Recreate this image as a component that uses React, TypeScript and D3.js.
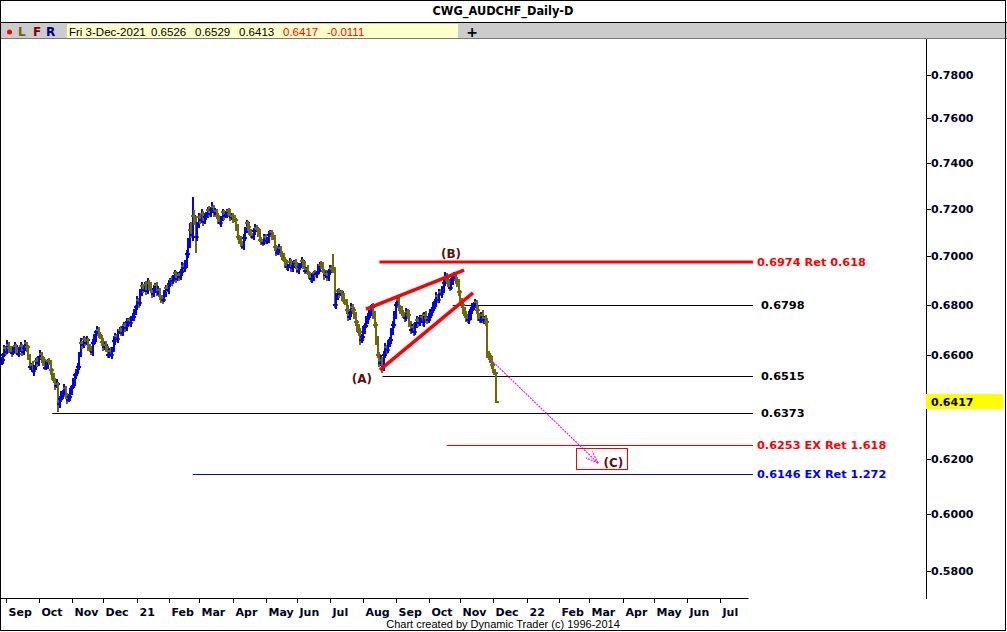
import React, { useEffect } from "react";
import * as d3 from "d3";

// ---- DATA (prices in units of 0.0001) ----
const startDate = "2020-08-27";
const closes = [
  6580, 6598, 6625, 6612, 6640, 6628, 6620, 6605, 6622, 6636,
  6618, 6602, 6620, 6633, 6610, 6628, 6645, 6630, 6590, 6552,
  6560, 6535, 6550, 6575, 6566, 6590, 6602, 6585, 6570, 6548,
  6560, 6575, 6570, 6540, 6515, 6500, 6478, 6485, 6410, 6428,
  6445, 6452, 6470, 6440, 6425, 6436, 6455, 6474, 6490, 6520,
  6535, 6552, 6600, 6646, 6640, 6662, 6648, 6658, 6630, 6625,
  6610, 6646, 6668, 6690, 6700, 6680, 6672, 6650, 6630, 6640,
  6625, 6600, 6615, 6598, 6620, 6655, 6675, 6662, 6690, 6700,
  6688, 6710, 6720, 6705, 6730, 6738, 6725, 6745, 6750, 6772,
  6790, 6820, 6805, 6850, 6875, 6862, 6880, 6855, 6890, 6878,
  6860, 6842, 6865, 6880, 6850, 6860, 6835, 6820, 6818, 6845,
  6870, 6860, 6885, 6900, 6895, 6913, 6930, 6905, 6920, 6913,
  6935, 6960, 6950, 6965, 7010, 7055, 7110, 7090, 7170, 7150,
  7080, 7130, 7165, 7155, 7180, 7145, 7166, 7175, 7195, 7180,
  7196, 7210, 7185, 7190, 7170, 7150, 7140, 7160, 7185, 7170,
  7175, 7190, 7180, 7166, 7172, 7160, 7155, 7120, 7080, 7070,
  7055, 7040, 7075, 7110, 7140, 7125, 7100, 7090, 7080, 7105,
  7120, 7115, 7095, 7070, 7065, 7055, 7080, 7065, 7070, 7090,
  7100, 7085, 7080, 7040, 7013, 7020, 7035, 7010, 7000, 6985,
  6970, 6955, 6960, 6975, 6950, 6960, 6975, 6965, 6940, 6955,
  6960, 6980, 6965, 6940, 6945, 6930, 6920, 6905, 6913, 6930,
  6925, 6930, 6950, 6965, 6963, 6940, 6920, 6925, 6913, 6935,
  6950, 6945, 6942, 6800, 6830, 6855, 6845, 6850, 6830, 6815,
  6810, 6780, 6750, 6765, 6790, 6780, 6755, 6730, 6710, 6690,
  6658, 6670, 6698, 6715, 6740, 6750, 6770, 6785, 6790, 6760,
  6720, 6658, 6600, 6568, 6580, 6550, 6600, 6630, 6620, 6645,
  6658, 6690, 6720, 6760, 6800, 6819, 6790, 6780, 6765, 6760,
  6745, 6770, 6760, 6725, 6700, 6710, 6690, 6720, 6738, 6725,
  6745, 6750, 6730, 6760, 6745, 6738, 6750, 6770, 6780, 6795,
  6810, 6835, 6820, 6850, 6845, 6860, 6890, 6913, 6900, 6889,
  6870, 6895, 6913, 6920, 6900, 6889, 6850, 6819, 6800, 6778,
  6760, 6745, 6738, 6755, 6778, 6790, 6800, 6810, 6780, 6750,
  6740, 6760, 6738, 6745, 6730, 6600, 6595, 6580, 6560, 6540, 6528, 6417,
];
// extension of the high above max(open, close), and of the low below min(open, close)
const hiExt = [
  12, 9, 15, 8, 18, 10, 6, 14, 9, 16, 8, 14, 10, 18, 9, 12, 15, 6, 10, 14,
  9, 16, 8, 12, 15, 6, 18, 10, 9, 14, 15, 8, 12, 9, 6, 14, 10, 18, 8, 12,
  14, 9, 16, 6, 12, 10, 15, 8, 18, 9, 10, 15, 12, 20, 9, 14, 8, 16, 10, 12,
  9, 18, 14, 8, 15, 10, 12, 6, 16, 9, 14, 8, 10, 15, 9, 18, 12, 8, 14, 10,
  15, 9, 12, 8, 16, 10, 14, 9, 18, 12, 10, 16, 8, 14, 19, 9, 12, 15, 18, 10,
  14, 8, 15, 9, 12, 18, 10, 6, 14, 16, 9, 12, 15, 8, 18, 10, 14, 9, 16, 12,
  10, 15, 12, 18, 14, 22, 28, 35, 82, 25, 18, 14, 16, 9, 20, 12, 15, 10, 14, 18,
  12, 22, 9, 15, 10, 14, 18, 8, 16, 12, 15, 9, 14, 19, 10, 12, 16, 8, 15, 10,
  14, 9, 18, 12, 15, 10, 14, 16, 9, 12, 15, 10, 8, 18, 12, 9, 14, 15, 10, 16,
  12, 9, 15, 10, 8, 14, 18, 9, 12, 15, 10, 14, 9, 16, 12, 15, 8, 14, 10, 18,
  12, 15, 9, 14, 10, 18, 8, 12, 15, 9, 14, 10, 16, 9, 15, 12, 8, 14, 18, 10,
  12, 15, 62, 14, 18, 10, 15, 9, 12, 16, 10, 14, 18, 9, 15, 12, 10, 16, 9, 14,
  15, 12, 18, 10, 14, 16, 9, 15, 12, 18, 14, 10, 15, 12, 18, 9, 14, 16, 10, 15,
  12, 18, 14, 15, 10, 16, 12, 9, 15, 14, 10, 15, 12, 18, 9, 14, 16, 10, 15, 12,
  14, 9, 16, 12, 15, 10, 18, 14, 9, 15, 12, 16, 10, 15, 14, 18, 12, 20, 15, 10,
  14, 16, 15, 15, 12, 14, 15, 12, 10, 14, 12, 15, 10, 18, 14, 16, 12, 15, 10, 14,
  15, 12, 18, 10, 14, 18, 15, 12, 14, 10, 3, 3,
];
const loExt = [
  10, 15, 8, 14, 9, 18, 12, 15, 6, 14, 16, 9, 12, 8, 15, 10, 14, 18, 9, 12,
  14, 8, 18, 10, 15, 12, 9, 16, 14, 10, 9, 15, 12, 18, 14, 10, 16, 9, 34, 15,
  12, 18, 9, 14, 16, 10, 15, 12, 9, 14, 15, 10, 14, 9, 18, 12, 15, 8, 14, 16,
  10, 14, 9, 18, 12, 15, 8, 16, 14, 10, 16, 12, 15, 9, 14, 10, 18, 12, 15, 9,
  12, 15, 9, 14, 10, 18, 12, 15, 9, 14, 15, 10, 18, 9, 14, 16, 12, 15, 10, 18,
  12, 15, 9, 18, 14, 10, 16, 12, 15, 9, 14, 10, 15, 12, 18, 9, 14, 16, 10, 15,
  12, 18, 10, 15, 14, 16, 20, 15, 25, 18, 67, 15, 12, 18, 14, 16, 10, 15, 12, 14,
  15, 12, 18, 10, 14, 16, 9, 15, 12, 18, 10, 15, 14, 16, 12, 18, 9, 15, 14, 18,
  15, 12, 16, 10, 14, 18, 12, 15, 9, 14, 16, 10, 15, 12, 18, 14, 9, 15, 12, 16,
  10, 15, 14, 18, 12, 9, 16, 14, 15, 10, 18, 12, 15, 10, 14, 16, 9, 18, 12, 15,
  14, 10, 18, 15, 12, 9, 16, 14, 15, 18, 12, 15, 9, 14, 16, 10, 18, 12, 15, 14,
  15, 10, 14, 15, 18, 12, 16, 10, 15, 14, 12, 18, 15, 10, 14, 16, 12, 15, 18, 14,
  18, 12, 15, 14, 10, 16, 12, 15, 14, 18, 15, 18, 14, 16, 12, 20, 15, 14, 18, 12,
  14, 16, 12, 15, 18, 10, 14, 16, 12, 15, 16, 12, 15, 14, 18, 12, 15, 10, 14, 16,
  12, 15, 14, 18, 10, 15, 12, 16, 14, 15, 14, 18, 12, 15, 10, 16, 14, 12, 15, 18,
  15, 12, 14, 10, 16, 15, 14, 18, 12, 15, 14, 16, 12, 15, 18, 14, 12, 15, 16, 14,
  15, 14, 12, 16, 15, 12, 16, 14, 15, 12, 8, 4,
];
const lastOpen = 6526;

const yTicks = [0.58, 0.6, 0.62, 0.64, 0.66, 0.68, 0.7, 0.72, 0.74, 0.76, 0.78];
const monthNames = ["Jan", "Feb", "Mar", "Apr", "May", "Jun", "Jul", "Aug", "Sep", "Oct", "Nov", "Dec"];

// Horizontal levels: price, label, start bar index, colour, width
const levelPrices = [0.6974, 0.6798, 0.6515, 0.6373, 0.6253, 0.6146];
const levelLabels = ["0.6974 Ret 0.618", "0.6798", "0.6515", "0.6373", "0.6253 EX Ret 1.618", "0.6146 EX Ret 1.272"];
const levelStart = [253, 302, 255, 34, 298, 128];
const levelColors = ["#ff0000", "#000000", "#000000", "#000000", "#ff0000", "#0000ff"];
const levelWidths = [3, 1, 1, 1, 1, 1];
const levelEnd = 503;

// Red trend lines: [i1, p1, i2, p2]
const trendLines = [
  [244, 0.6782, 309.6, 0.6942],
  [253.3, 0.654, 315.6, 0.6848],
];
// Projection arrow
const arrowFrom = [326.3, 0.6587];
const arrowTo = [399.3, 0.6186];
const boxC = [384.5, 0.6242, 418.7, 0.6164];
const waveLabels = ["(A)", "(B)", "(C)"];
const waveIdx = [241.3, 300.9, 409.6];
const wavePrice = [0.6507, 0.701, 0.6189];

const lastPrice = 0.6417;

// ---- helpers ----
function weekdays(from: string, count: number): Date[] {
  const out: Date[] = [];
  const d = new Date(from + "T00:00:00Z");
  while (out.length < count) {
    const wd = d.getUTCDay();
    if (wd !== 0 && wd !== 6) out.push(new Date(d.getTime()));
    d.setUTCDate(d.getUTCDate() + 1);
  }
  return out;
}

export default function App() {
  useEffect(() => {
    document.body.style.margin = "0";
  }, []);

  const W = 1007;
  const H = 632;
  const axisX = 926;
  const plotBottom = 598;

  const x = d3.scaleLinear().domain([0, 331]).range([1.5, 496]);
  const y = d3.scaleLog().domain([0.58, 0.78]).range([571, 75]);

  const days = weekdays(startDate, 520);
  const ticks: { i: number; label: string }[] = [];
  let endIdx = 0;
  for (let i = 1; i < days.length; i++) {
    const a = days[i - 1];
    const b = days[i];
    if (a.getUTCMonth() !== b.getUTCMonth()) {
      const yr = b.getUTCFullYear();
      const m = b.getUTCMonth();
      if (yr === 2022 && m === 7) {
        endIdx = i;
        break;
      }
      ticks.push({ i, label: m === 0 ? String(yr).slice(2) : monthNames[m] });
    }
  }

  const bars = closes.map((c, i) => {
    const o = i === closes.length - 1 ? lastOpen : i === 0 ? c - 10 : closes[i - 1];
    const h = Math.max(o, c) + hiExt[i];
    const l = Math.min(o, c) - loExt[i];
    return { i, o: o / 10000, h: h / 10000, l: l / 10000, c: c / 10000, up: c >= o };
  });

  const axisFont = "'DejaVu Sans', Verdana, sans-serif";
  const textCol = "#00001a";

  const ax1 = x(arrowFrom[0]);
  const ay1 = y(arrowFrom[1]);
  const ax2 = x(arrowTo[0]);
  const ay2 = y(arrowTo[1]);
  const ang = Math.atan2(ay2 - ay1, ax2 - ax1);
  const barb = 13;
  const spread = 0.35;

  return (
    <svg width={W} height={H} style={{ display: "block", background: "#fff" }}>
      {/* title row */}
      <rect x={0} y={0} width={W} height={H} fill="#fff" />
      <text x={503} y={15} textAnchor="middle" fontFamily={axisFont} fontWeight="bold" fontSize={11.4} fill="#000">
        CWG_AUDCHF_Daily-D
      </text>
      <line x1={0} x2={W} y1={22.5} y2={22.5} stroke="#000" />
      {/* toolbar */}
      <rect x={0} y={23} width={W} height={15.5} fill="#cccccc" />
      <line x1={0} x2={W} y1={38.5} y2={38.5} stroke="#7a7a7a" />
      <rect x={67} y={24} width={391} height={14} fill="#ffffcc" />
      <circle cx={9.5} cy={32} r={2.5} fill="#ff0000" />
      <text x={18} y={36} fontFamily={axisFont} fontWeight="bold" fontSize={12} fill="#666600">L</text>
      <text x={33} y={36} fontFamily={axisFont} fontWeight="bold" fontSize={12} fill="#800000">F</text>
      <text x={46} y={36} fontFamily={axisFont} fontWeight="bold" fontSize={12} fill="#000080">R</text>
      <g fontFamily="'Liberation Sans', Arial, sans-serif" fontSize={11.5}>
        <text x={69} y={35.5} fill="#000">Fri 3-Dec-2021</text>
        <text x={151} y={35.5} fill="#000">0.6526</text>
        <text x={195} y={35.5} fill="#000">0.6529</text>
        <text x={239} y={35.5} fill="#000">0.6413</text>
        <text x={283} y={35.5} fill="#ff0000">0.6417</text>
        <text x={327} y={35.5} fill="#ff0000">-0.0111</text>
      </g>
      <text x={472} y={36.5} textAnchor="middle" fontFamily={axisFont} fontWeight="bold" fontSize={14} fill="#000">+</text>

      {/* clip for plot */}
      <defs>
        <clipPath id="plotClip">
          <rect x={0} y={39} width={axisX} height={plotBottom - 39} />
        </clipPath>
      </defs>

      <g clipPath="url(#plotClip)">
        {/* level lines */}
        {levelPrices.map((p, k) => (
          <line
            key={"lv" + k}
            x1={x(levelStart[k])}
            x2={x(levelEnd)}
            y1={Math.round(y(p)) + (levelWidths[k] === 1 ? 0.5 : 0)}
            y2={Math.round(y(p)) + (levelWidths[k] === 1 ? 0.5 : 0)}
            stroke={levelColors[k]}
            strokeWidth={levelWidths[k]}
          />
        ))}

        {/* price bars */}
        <g shapeRendering="crispEdges">
          {bars.map((b) => {
            const cx = Math.round(x(b.i));
            const col = b.up ? "#0000ff" : "#6b6b00";
            const yh = Math.round(y(b.h));
            const yl = Math.round(y(b.l));
            const yo = Math.round(y(b.o));
            const yc = Math.round(y(b.c));
            return (
              <g key={b.i} fill={col}>
                <rect x={cx - 1} y={yh} width={2} height={Math.max(2, yl - yh)} />
                <rect x={cx - 3} y={yo - 1} width={2} height={2} />
                <rect x={cx + 1} y={yc - 1} width={2} height={2} />
              </g>
            );
          })}
        </g>

        {/* trend lines */}
        {trendLines.map((t, k) => (
          <line
            key={"tl" + k}
            x1={x(t[0])}
            y1={y(t[1])}
            x2={x(t[2])}
            y2={y(t[3])}
            stroke="#ff0000"
            strokeWidth={3.5}
          />
        ))}

        {/* projection arrow */}
        <g stroke="#ff00ff" strokeWidth={1.1} strokeDasharray="2 1">
          <line x1={ax1} y1={ay1} x2={ax2} y2={ay2} />
          <line
            x1={ax2}
            y1={ay2}
            x2={ax2 - barb * Math.cos(ang - spread)}
            y2={ay2 - barb * Math.sin(ang - spread)}
          />
          <line
            x1={ax2}
            y1={ay2}
            x2={ax2 - barb * Math.cos(ang + spread)}
            y2={ay2 - barb * Math.sin(ang + spread)}
          />
        </g>
        <rect
          x={Math.round(x(boxC[0])) + 0.5}
          y={Math.round(y(boxC[1])) + 0.5}
          width={Math.round(x(boxC[2]) - x(boxC[0]))}
          height={Math.round(y(boxC[3]) - y(boxC[1]))}
          fill="none"
          stroke="#ff0000"
        />

        {/* wave labels */}
        {waveLabels.map((t, k) => (
          <text
            key={"wl" + k}
            x={x(waveIdx[k])}
            y={y(wavePrice[k])}
            dy="0.35em"
            textAnchor="middle"
            fontFamily={axisFont}
            fontWeight="bold"
            fontSize={12}
            fill="#5c1010"
          >
            {t}
          </text>
        ))}

        {/* level labels */}
        {levelPrices.map((p, k) => (
          <text
            key={"ll" + k}
            x={levelColors[k] === "#000000" ? 761 : 757}
            y={y(p)}
            dy="0.36em"
            fontFamily={axisFont}
            fontWeight="bold"
            fontSize={11.3}
            fill={levelColors[k] === "#000000" ? "#000" : levelColors[k]}
          >
            {levelLabels[k]}
          </text>
        ))}
      </g>

      {/* right axis */}
      <line x1={axisX + 0.5} x2={axisX + 0.5} y1={39} y2={plotBottom + 1} stroke="#000" />
      {yTicks.map((t) => {
        const hidden = Math.abs(y(t) - y(lastPrice)) < 10;
        return (
          <g key={"yt" + t}>
            <line x1={axisX} x2={axisX + 5} y1={Math.round(y(t)) + 0.5} y2={Math.round(y(t)) + 0.5} stroke="#000" />
            {!hidden && (
              <text x={931} y={y(t)} dy="0.36em" fontFamily={axisFont} fontWeight="bold" fontSize={11} fill={textCol}>
                {d3.format(".4f")(t)}
              </text>
            )}
          </g>
        );
      })}
      <rect x={axisX} y={Math.round(y(lastPrice)) - 8} width={77} height={15} fill="#ffff00" />
      <text x={931} y={y(lastPrice)} dy="0.36em" fontFamily={axisFont} fontWeight="bold" fontSize={11} fill="#000">
        {d3.format(".4f")(lastPrice)}
      </text>

      {/* bottom axis */}
      <line x1={0} x2={x(endIdx) - 3} y1={plotBottom + 0.5} y2={plotBottom + 0.5} stroke="#000" />
      {ticks.map((t) => {
        const tx = Math.round(x(t.i)) + 0.5;
        return (
          <g key={"xt" + t.i}>
            <line x1={tx} x2={tx} y1={plotBottom} y2={plotBottom + 5} stroke="#000" />
            <text x={tx + 2} y={616} fontFamily={axisFont} fontWeight="bold" fontSize={11} fill={textCol}>
              {t.label}
            </text>
          </g>
        );
      })}
      <text x={503} y={628} textAnchor="middle" fontFamily="'Liberation Sans', Arial, sans-serif" fontSize={11} fill="#000">
        Chart created by Dynamic Trader  (c) 1996-2014
      </text>

      {/* outer frame */}
      <rect x={0.5} y={0.5} width={1005} height={630} fill="none" stroke="#000" />
    </svg>
  );
}
